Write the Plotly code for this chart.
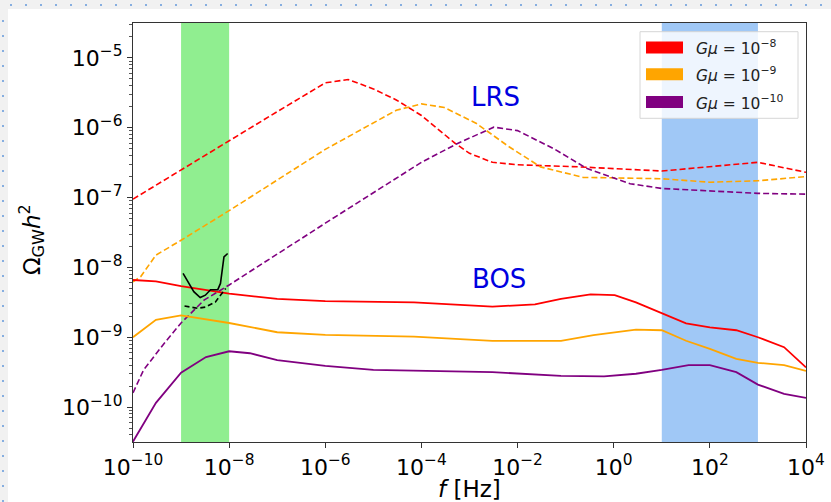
import plotly.graph_objects as go

# ---------------- data ----------------
# LRS (dashed)
f_lrs8 = [1e-10, 1e-9, 1e-8, 1e-7, 1e-6, 3e-6, 1e-5, 3e-5, 1e-4, 5e-4, 1e-3, 3e-3, 1e-2, 0.2, 10, 100, 1000, 1e4]
om_lrs8 = [9.5e-8, 2.5e-7, 6.5e-7, 1.7e-6, 4.4e-6, 4.9e-6, 3.6e-6, 2.5e-6, 1.5e-6, 6.0e-7, 4.3e-7, 3.2e-7, 2.95e-7, 2.75e-7, 2.4e-7, 2.75e-7, 3.2e-7, 2.3e-7]

f_lrs9 = [1e-10, 1.45e-10, 3e-10, 1e-9, 1e-8, 1e-6, 3e-5, 1e-4, 3e-4, 1.4e-3, 6.5e-3, 3e-2, 0.23, 10, 100, 1000, 1e4]
om_lrs9 = [6.2e-9, 7.4e-9, 1.5e-8, 2.45e-8, 6.5e-8, 4.9e-7, 1.78e-6, 2.2e-6, 1.95e-6, 1.15e-6, 5.4e-7, 2.75e-7, 1.95e-7, 1.86e-7, 1.66e-7, 1.74e-7, 2.0e-7]

f_lrs10 = [1e-10, 1.66e-10, 4.4e-10, 1e-9, 3e-9, 1e-8, 1e-6, 1e-4, 5.5e-4, 3.2e-3, 1e-2, 5.7e-2, 0.28, 2.2, 10, 100, 1000, 1e4]
om_lrs10 = [1.6e-10, 3.4e-10, 8.1e-10, 1.6e-9, 3.4e-9, 5.6e-9, 4.3e-8, 3.2e-7, 5.9e-7, 1.02e-6, 9.1e-7, 5.0e-7, 2.6e-7, 1.58e-7, 1.35e-7, 1.26e-7, 1.15e-7, 1.12e-7]

# BOS (solid)
f_bos8 = [1e-10, 3e-10, 1e-9, 1e-8, 1e-7, 1e-6, 7e-5, 3e-3, 2.3e-2, 8e-2, 0.33, 1.05, 2.9, 10, 32, 100, 355, 1000, 3500, 1e4]
om_bos8 = [6.6e-9, 6.3e-9, 5.4e-9, 4.2e-9, 3.55e-9, 3.3e-9, 3.16e-9, 2.75e-9, 2.95e-9, 3.55e-9, 4.1e-9, 4.0e-9, 3.16e-9, 2.2e-9, 1.58e-9, 1.38e-9, 1.26e-9, 1.0e-9, 7.2e-10, 3.7e-10]

f_bos9 = [1e-10, 3e-10, 1e-9, 1e-8, 1e-7, 1e-6, 7e-5, 3e-3, 8e-2, 0.38, 2.9, 10, 32, 100, 355, 1000, 3500, 1e4]
om_bos9 = [1.0e-9, 1.78e-9, 2.05e-9, 1.6e-9, 1.18e-9, 1.08e-9, 1.02e-9, 8.9e-10, 8.9e-10, 1.07e-9, 1.29e-9, 1.26e-9, 8.9e-10, 6.8e-10, 4.9e-10, 4.3e-10, 4.0e-10, 3.3e-10]

f_bos10 = [1e-10, 3e-10, 1e-9, 3.3e-9, 1e-8, 2.7e-8, 1e-7, 1e-6, 1e-5, 7e-5, 3e-3, 8e-2, 0.63, 2.9, 10, 36, 100, 355, 1000, 3500, 1e4]
om_bos10 = [3.2e-11, 1.15e-10, 3.1e-10, 5.2e-10, 6.3e-10, 5.9e-10, 4.7e-10, 3.9e-10, 3.4e-10, 3.3e-10, 3.16e-10, 2.8e-10, 2.75e-10, 3.0e-10, 3.4e-10, 4.0e-10, 4.0e-10, 3.16e-10, 2.1e-10, 1.55e-10, 1.35e-10]

# PTA curves (black)
f_pta_solid = [1.1e-9, 1.45e-9, 1.84e-9, 2.5e-9, 3.2e-9, 4.1e-9, 5.8e-9, 6.6e-9, 7.2e-9, 7.8e-9, 9.3e-9]
om_pta_solid = [8.2e-9, 5.9e-9, 4.5e-9, 3.7e-9, 4.0e-9, 4.8e-9, 4.8e-9, 5.9e-9, 9.1e-9, 1.41e-8, 1.58e-8]
f_pta_dash = [1.18e-9, 1.58e-9, 2.2e-9, 3.2e-9, 5.2e-9, 6.6e-9, 8.5e-9]
om_pta_dash = [2.8e-9, 2.7e-9, 2.6e-9, 2.7e-9, 3.2e-9, 4.0e-9, 5.0e-9]

# frequency bands
green_band = [1e-9, 1e-8]
blue_band = [10, 1000]

series_colors = ["#ff0000", "#ffa500", "#800080"]
legend_labels = ["<i>Gμ</i> = 10<sup>−8</sup>", "<i>Gμ</i> = 10<sup>−9</sup>", "<i>Gμ</i> = 10<sup>−10</sup>"]

x_tickvals = [1e-10, 1e-8, 1e-6, 1e-4, 1e-2, 1, 1e2, 1e4]
x_ticktext = ["10<sup>−10</sup>", "10<sup>−8</sup>", "10<sup>−6</sup>", "10<sup>−4</sup>",
              "10<sup>−2</sup>", "10<sup>0</sup>", "10<sup>2</sup>", "10<sup>4</sup>"]
y_tickvals = [1e-10, 1e-9, 1e-8, 1e-7, 1e-6, 1e-5]
y_ticktext = ["10<sup>−10</sup>", "10<sup>−9</sup>", "10<sup>−8</sup>", "10<sup>−7</sup>",
              "10<sup>−6</sup>", "10<sup>−5</sup>"]

# ---------------- layout geometry ----------------
W, H = 831, 502
ML, MR, MT, MB = 133, 25, 23, 60
PW, PH = W - ML - MR, H - MT - MB


def px(x):
    return (x - ML) / PW


def py(y):
    return (H - MB - y) / PH


FONT = "DejaVu Sans"

fig = go.Figure()

# bands
for band, col in [(green_band, "#90ee90"), (blue_band, "#a0c8f6")]:
    fig.add_trace(go.Scatter(
        x=[band[0], band[1], band[1], band[0], band[0]],
        y=[1e-12, 1e-12, 1e-3, 1e-3, 1e-12],
        fill="toself", fillcolor=col, line=dict(width=0), mode="lines",
        hoverinfo="skip", showlegend=False))

dash_style = "6px,3px"
for f, om, c in [(f_lrs8, om_lrs8, series_colors[0]),
                 (f_lrs9, om_lrs9, series_colors[1]),
                 (f_lrs10, om_lrs10, series_colors[2])]:
    fig.add_trace(go.Scatter(x=f, y=om, mode="lines",
                             line=dict(color=c, width=1.6, dash=dash_style),
                             showlegend=False))

for f, om, c in [(f_bos8, om_bos8, series_colors[0]),
                 (f_bos9, om_bos9, series_colors[1]),
                 (f_bos10, om_bos10, series_colors[2])]:
    fig.add_trace(go.Scatter(x=f, y=om, mode="lines",
                             line=dict(color=c, width=1.8),
                             showlegend=False))

fig.add_trace(go.Scatter(x=f_pta_solid, y=om_pta_solid, mode="lines",
                         line=dict(color="black", width=1.6), showlegend=False))
fig.add_trace(go.Scatter(x=f_pta_dash, y=om_pta_dash, mode="lines",
                         line=dict(color="black", width=1.6, dash="5px,3px"),
                         showlegend=False))

minor_y = [k * 10.0 ** e for e in range(-11, -4) for k in range(2, 10)]

fig.update_xaxes(type="log", range=[-10, 4], tickmode="array",
                 tickvals=x_tickvals, ticktext=x_ticktext,
                 ticks="outside", ticklen=5, tickwidth=1, tickcolor="#333",
                 showline=True, linecolor="#333", linewidth=1.3, mirror=True,
                 showgrid=False, zeroline=False,
                 tickfont=dict(family=FONT, size=22, color="black"))
fig.update_yaxes(type="log", range=[-10.5, -4.5], tickmode="array",
                 tickvals=y_tickvals, ticktext=y_ticktext,
                 ticks="outside", ticklen=5, tickwidth=1, tickcolor="#333",
                 minor=dict(tickmode="array", tickvals=minor_y, ticks="outside",
                            ticklen=3, tickwidth=0.8, tickcolor="#555", showgrid=False),
                 showline=True, linecolor="#333", linewidth=1.3, mirror=True,
                 showgrid=False, zeroline=False,
                 tickfont=dict(family=FONT, size=22, color="black"))

shapes = []
annotations = []

# screenshot-style border strip
shapes.append(dict(type="rect", xref="paper", yref="paper", x0=px(0), x1=px(W), y0=py(0), y1=py(9),
                   fillcolor="#f1f1f1", line=dict(width=0), layer="above"))
shapes.append(dict(type="rect", xref="paper", yref="paper", x0=px(0), x1=px(8), y0=py(0), y1=py(H),
                   fillcolor="#f1f1f1", line=dict(width=0), layer="above"))
shapes.append(dict(type="line", xref="paper", yref="paper", x0=px(10), x1=px(W), y0=py(5), y1=py(5),
                   line=dict(color="#86aee0", width=2, dash="2px,13px"), layer="above"))
shapes.append(dict(type="line", xref="paper", yref="paper", x0=px(3), x1=px(3), y0=py(20), y1=py(H),
                   line=dict(color="#86aee0", width=2, dash="2px,13px"), layer="above"))

# legend box
shapes.append(dict(type="rect", xref="paper", yref="paper", x0=px(640), x1=px(798), y0=py(31.7), y1=py(118.3),
                   fillcolor="rgba(255,255,255,0.82)", line=dict(color="#d6d6d6", width=1), layer="above"))
row_y = [47.4, 74.3, 102.0]
for yy, c, lab in zip(row_y, series_colors, legend_labels):
    shapes.append(dict(type="rect", xref="paper", yref="paper", x0=px(646), x1=px(683),
                       y0=py(yy + 6), y1=py(yy - 6), fillcolor=c, line=dict(width=0), layer="above"))
    annotations.append(dict(xref="paper", yref="paper", x=px(694), y=py(yy), text=lab,
                            xanchor="left", yanchor="middle", showarrow=False,
                            font=dict(family=FONT, size=15.5, color="#222")))

# curve labels
annotations.append(dict(xref="x", yref="y", x=-2.45, y=-5.565, text="LRS", showarrow=False,
                        font=dict(family=FONT, size=26, color="#0000e0"), xanchor="center", yanchor="middle"))
annotations.append(dict(xref="x", yref="y", x=-2.39, y=-8.16, text="BOS", showarrow=False,
                        font=dict(family=FONT, size=26, color="#0000e0"), xanchor="center", yanchor="middle"))

# axis titles
annotations.append(dict(xref="paper", yref="paper", x=px(469), y=py(489), text="<i>f</i> [Hz]",
                        showarrow=False, xanchor="center", yanchor="middle",
                        font=dict(family=FONT, size=23, color="black")))
annotations.append(dict(xref="paper", yref="paper", x=px(31), y=py(240),
                        text="Ω<sub>GW</sub><i>h</i><sup>2</sup>", textangle=-90,
                        showarrow=False, xanchor="center", yanchor="middle",
                        font=dict(family=FONT, size=23, color="black")))

fig.update_layout(width=W, height=H, margin=dict(l=ML, r=MR, t=MT, b=MB, autoexpand=False),
                  paper_bgcolor="white", plot_bgcolor="white",
                  shapes=shapes, annotations=annotations, showlegend=False)

fig.write_html("out.html")
